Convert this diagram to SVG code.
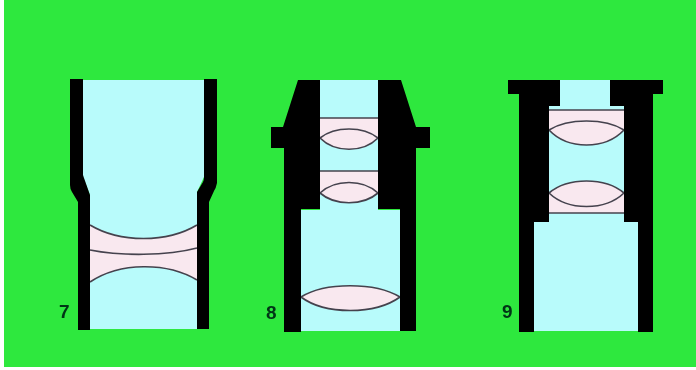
<svg xmlns="http://www.w3.org/2000/svg" width="696" height="370" viewBox="0 0 696 370">
<defs>
<filter id="soft" x="-5%" y="-5%" width="110%" height="110%"><feGaussianBlur stdDeviation="0.6"/></filter>
</defs>
<style>
.tube{filter:url(#soft)}
.wall{fill:#040404}
.bore{fill:#b8fbfb}
.glass{fill:#f9e8ef}
.edge{fill:none;stroke:#45434e;stroke-width:1.7}
.num{font-family:"Liberation Sans",Arial,sans-serif;font-size:19px;font-weight:700;fill:#053416}
</style>
<rect width="696" height="370" fill="#fff"/>
<rect x="4" y="0" width="692" height="367" fill="#2ee83e"/>
<g id="tube-7" class="tube">
<path class="bore" d="M83 80H204V177L197 192V329H90V195L83 177Z"/>
<path class="glass" d="M90 225C120 243 167 243 197 225V280C167 262 120 262 90 282Z"/>
<path class="edge" d="M90 225C120 243 167 243 197 225M90 250C120 256 167 256 197 248M90 282C120 262 167 262 197 280"/>
<path class="wall" d="M70 79H83V175Q84 178 90 195V330H78V202L72 192Q70 189 70 185Z"/>
<path class="wall" d="M204 79H217V183Q216 188 214 191L209 202V329H197V192L203 182Q204 180 204 177Z"/>
<text class="num" x="59" y="318">7</text>
</g>
<g id="tube-8" class="tube">
<path class="bore" d="M320 80H378V210H400V331H301V210H320Z"/>
<path class="glass" d="M320 118H378V138C363 153 335 153 320 138Z"/>
<path class="glass" d="M320 171H378V193C363 206 335 206 320 193Z"/>
<path class="glass" d="M301 297C325 282 375 282 400 297C375 315 325 315 301 297Z"/>
<path class="edge" d="M320 118H378M320 138C335 126 363 126 378 138C363 153 335 153 320 138M320 171H378M320 193C335 179 363 179 378 193C363 206 335 206 320 193M301 297C325 282 375 282 400 297C375 315 325 315 301 297"/>
<path class="wall" d="M298 80H320V209H301V332H284V148H271V127H283Z"/>
<path class="wall" d="M378 80H401L416 127H430V148H416V331H400V209H378Z"/>
<text class="num" x="266" y="319">8</text>
</g>
<g id="tube-9" class="tube">
<path class="bore" d="M560 80H610V106H624V222H638V331H534V222H549V106H560Z"/>
<path class="glass" d="M549 110H624V130C605 150 568 150 549 130Z"/>
<path class="glass" d="M549 193C568 177 605 177 624 193V213H549Z"/>
<path class="edge" d="M549 110H624M549 130C568 118 605 118 624 130C605 150 568 150 549 130M549 193C568 177 605 177 624 193C605 211 568 211 549 193M549 213H624"/>
<path class="wall" d="M508 80H560V106H549V222H534V332H519V94H508Z"/>
<path class="wall" d="M610 80H663V94H653V332H638V222H624V106H610Z"/>
<text class="num" x="502" y="318">9</text>
</g>
</svg>
